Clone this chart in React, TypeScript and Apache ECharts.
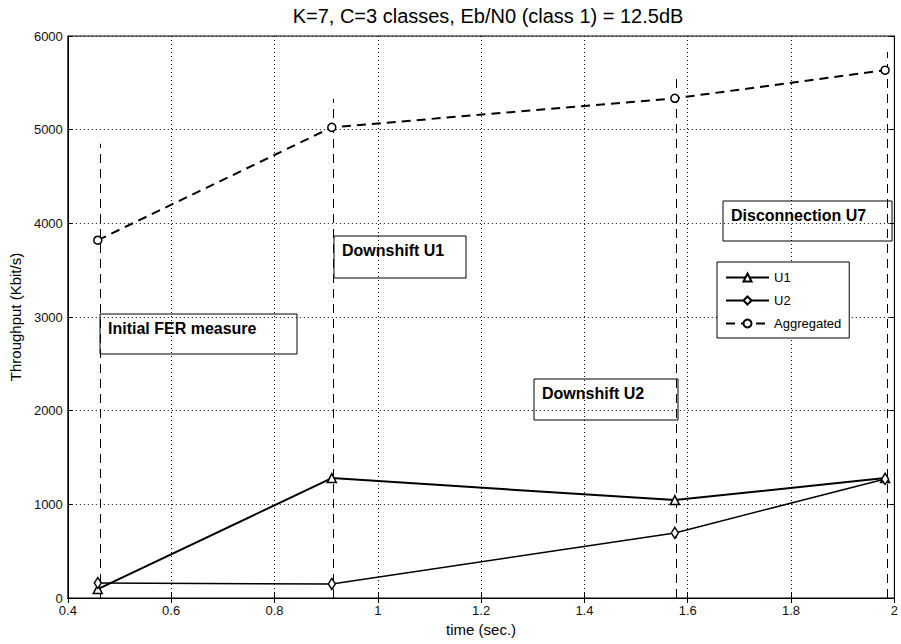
import React, { useEffect, useRef } from "react";
import * as echarts from "echarts";

const titleText = "K=7, C=3 classes, Eb/N0 (class 1) = 12.5dB";
const times = [0.458, 0.911, 1.575, 1.982];
const u1 = [95, 1280, 1045, 1280];
const u2 = [160, 150, 695, 1270];
const aggregated = [3820, 5025, 5335, 5635];
const eventTimes = [0.463, 0.913, 1.577, 1.986];
const eventTops = [4850, 5330, 5580, 5830];
const annotations = ["Initial FER measure", "Downshift U1", "Downshift U2", "Disconnection U7"];
const seriesNames = ["U1", "U2", "Aggregated"];

const FONT = "'Liberation Sans', Arial, sans-serif";

export default function App() {
  const ref = useRef<HTMLDivElement>(null);
  useEffect(() => {
    if (!ref.current) return;
    const chart = echarts.init(ref.current, null, { renderer: "svg" });
    const pts = (ys: number[]) => times.map((t, i) => [t, ys[i]]);
    const boxes = [
      { x: 100, y: 314, w: 197, h: 40 },
      { x: 334, y: 236, w: 132, h: 42 },
      { x: 534, y: 379, w: 144, h: 41 },
      { x: 723, y: 201, w: 169, h: 40 },
    ];
    const graphic: any[] = [];
    boxes.forEach((b, i) => {
      graphic.push({
        type: "rect",
        shape: { x: b.x, y: b.y, width: b.w, height: b.h },
        style: { fill: "none", stroke: "#000", lineWidth: 1 },
        z: 10,
      });
      graphic.push({
        type: "text",
        x: b.x + 8,
        y: b.y + 14,
        style: {
          text: annotations[i],
          font: `bold 16px ${FONT}`,
          fill: "#000",
          verticalAlign: "middle",
        },
        z: 11,
      });
    });
    const markerStyle = { color: "#fff", borderColor: "#000", borderWidth: 1.5 };
    const plain = (v: number) => String(v);
    chart.setOption({
      animation: false,
      backgroundColor: "#fff",
      textStyle: { fontFamily: FONT },
      title: {
        text: titleText,
        left: 483,
        textAlign: "center",
        top: 1,
        textStyle: { fontSize: 20, fontWeight: "normal", color: "#000", fontFamily: FONT },
      },
      grid: { left: 67, right: 2, top: 36, bottom: 46, show: true, borderColor: "#000", borderWidth: 1, backgroundColor: "#fff" },
      legend: {
        data: seriesNames,
        orient: "vertical",
        left: 717,
        top: 262,
        backgroundColor: "#fff",
        borderColor: "#000",
        borderWidth: 1,
        borderRadius: 0,
        padding: [9, 8, 8, 8],
        itemGap: 10,
        itemWidth: 43,
        itemHeight: 10,
        textStyle: { fontSize: 13, color: "#000", fontFamily: FONT },
        z: 20,
      },
      xAxis: [
        {
          type: "value",
          min: 0.4,
          max: 2,
          interval: 0.2,
          name: "time (sec.)",
          nameLocation: "middle",
          nameGap: 24,
          nameTextStyle: { fontSize: 15, color: "#000" },
          axisLine: { show: true, lineStyle: { color: "#000" } },
          axisTick: { inside: true, length: 5, lineStyle: { color: "#000" } },
          axisLabel: { fontSize: 13, color: "#111", margin: 6, formatter: plain },
          splitLine: { show: true, lineStyle: { color: "#000", type: [1, 3], width: 1 } },
        },
        {
          type: "value",
          position: "top",
          min: 0.4,
          max: 2,
          interval: 0.2,
          axisLine: { show: true, lineStyle: { color: "#000" } },
          axisTick: { inside: true, length: 5, lineStyle: { color: "#000" } },
          axisLabel: { show: false },
          splitLine: { show: false },
        },
      ],
      yAxis: [
        {
          type: "value",
          min: 0,
          max: 6000,
          interval: 1000,
          name: "Throughput (Kbit/s)",
          nameLocation: "middle",
          nameGap: 43,
          nameTextStyle: { fontSize: 15, color: "#000" },
          axisLine: { show: true, lineStyle: { color: "#000" } },
          axisTick: { inside: true, length: 5, lineStyle: { color: "#000" } },
          axisLabel: { fontSize: 13, color: "#111", margin: 5, formatter: plain },
          splitLine: { show: true, lineStyle: { color: "#000", type: [1, 3], width: 1 } },
        },
        {
          type: "value",
          position: "right",
          min: 0,
          max: 6000,
          interval: 1000,
          axisLine: { show: true, lineStyle: { color: "#000" } },
          axisTick: { inside: true, length: 5, lineStyle: { color: "#000" } },
          axisLabel: { show: false },
          splitLine: { show: false },
        },
      ],
      graphic,
      series: [
        {
          name: "events",
          type: "line",
          data: [],
          silent: true,
          markLine: {
            silent: true,
            symbol: "none",
            label: { show: false },
            lineStyle: { color: "#000", type: [9, 6], width: 1 },
            data: eventTimes.map((t, i) => [{ coord: [t, 0] }, { coord: [t, eventTops[i]] }]),
          },
        },
        {
          name: "U1",
          type: "line",
          data: pts(u1),
          symbol: "triangle",
          symbolSize: 9,
          lineStyle: { color: "#000", width: 2 },
          itemStyle: markerStyle,
          z: 5,
        },
        {
          name: "U2",
          type: "line",
          data: pts(u2),
          symbol: "diamond",
          symbolSize: [7, 11],
          lineStyle: { color: "#000", width: 1.5 },
          itemStyle: markerStyle,
          z: 5,
        },
        {
          name: "Aggregated",
          type: "line",
          data: pts(aggregated),
          symbol: "circle",
          symbolSize: 8,
          lineStyle: { color: "#000", width: 2, type: [9, 6] },
          itemStyle: markerStyle,
          z: 5,
        },
      ],
    });
    return () => chart.dispose();
  }, []);
  return <div ref={ref} style={{ width: 901, height: 644, position: "absolute", left: 0, top: 0 }} />;
}
